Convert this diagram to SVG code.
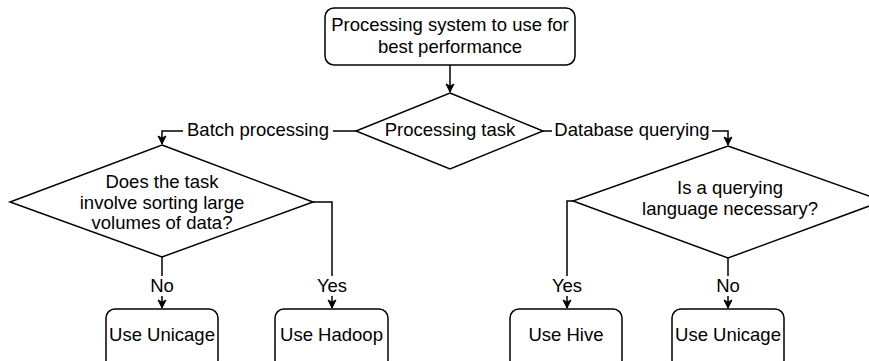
<svg xmlns="http://www.w3.org/2000/svg" width="869" height="361" viewBox="0 0 869 361">
<style>
.n{fill:#fff;stroke:#000;stroke-width:1.5}
.e{fill:none;stroke:#000;stroke-width:1.5}
text{font-family:"Liberation Sans",Arial,sans-serif;font-size:18.5px;fill:#000;text-anchor:middle}
.bg{fill:#fff}
</style>
<defs>
<marker id="a" markerUnits="userSpaceOnUse" markerWidth="10" markerHeight="10" viewBox="0 0 10 10" refX="9" refY="5" orient="auto">
<path d="M1,1 L9,5 L1,9 L3,5 Z" fill="#000" stroke="#000" stroke-width="1"/>
</marker>
</defs>
<g id="connectors">
<path class="e" d="M450,65 V92" marker-end="url(#a)"/>
<path class="e" d="M356,131 H162 V144" marker-end="url(#a)"/>
<rect class="bg" x="183" y="120" width="150" height="22"/>
<text x="258" y="136">Batch processing</text>
<path class="e" d="M543,131 H728 V145" marker-end="url(#a)"/>
<rect class="bg" x="552" y="120" width="160" height="22"/>
<text x="632" y="136">Database querying</text>
<path class="e" d="M162,257 V308" marker-end="url(#a)"/>
<rect class="bg" x="150" y="276" width="24" height="20"/>
<text x="162" y="292">No</text>
<path class="e" d="M313,202 H332 V308" marker-end="url(#a)"/>
<rect class="bg" x="315" y="276" width="34" height="20"/>
<text x="332" y="292">Yes</text>
<path class="e" d="M573,201 H567 V308" marker-end="url(#a)"/>
<rect class="bg" x="550" y="276" width="34" height="20"/>
<text x="567" y="292">Yes</text>
<path class="e" d="M728,258 V308" marker-end="url(#a)"/>
<rect class="bg" x="716" y="276" width="24" height="20"/>
<text x="728" y="292">No</text>
</g>
<g id="start">
<rect class="n" x="325" y="8" width="250" height="57" rx="9"/>
<text x="450" y="31">Processing system to use for</text>
<text x="450" y="53">best performance</text>
</g>
<g id="task">
<path class="n" d="M450,93 L543,131 L450,169 L356,131 Z"/>
<text x="450" y="136">Processing task</text>
</g>
<g id="sorting">
<path class="n" d="M162,145 L313,202 L162,257 L10,202 Z"/>
<text x="162" y="188">Does the task</text>
<text x="162" y="209">involve sorting large</text>
<text x="162" y="229">volumes of data?</text>
</g>
<g id="querying">
<path class="n" d="M728,146 L883,201 L728,258 L573,201 Z"/>
<text x="730" y="194">Is a querying</text>
<text x="730" y="215">language necessary?</text>
</g>
<g id="unicage1">
<rect class="n" x="106" y="309" width="112" height="60" rx="9"/>
<text x="162" y="341">Use Unicage</text>
</g>
<g id="hadoop">
<rect class="n" x="275" y="309" width="113" height="60" rx="9"/>
<text x="331.5" y="341">Use Hadoop</text>
</g>
<g id="hive">
<rect class="n" x="510" y="309" width="112" height="60" rx="9"/>
<text x="566" y="341">Use Hive</text>
</g>
<g id="unicage2">
<rect class="n" x="672" y="309" width="112" height="60" rx="9"/>
<text x="728" y="341">Use Unicage</text>
</g>
</svg>
